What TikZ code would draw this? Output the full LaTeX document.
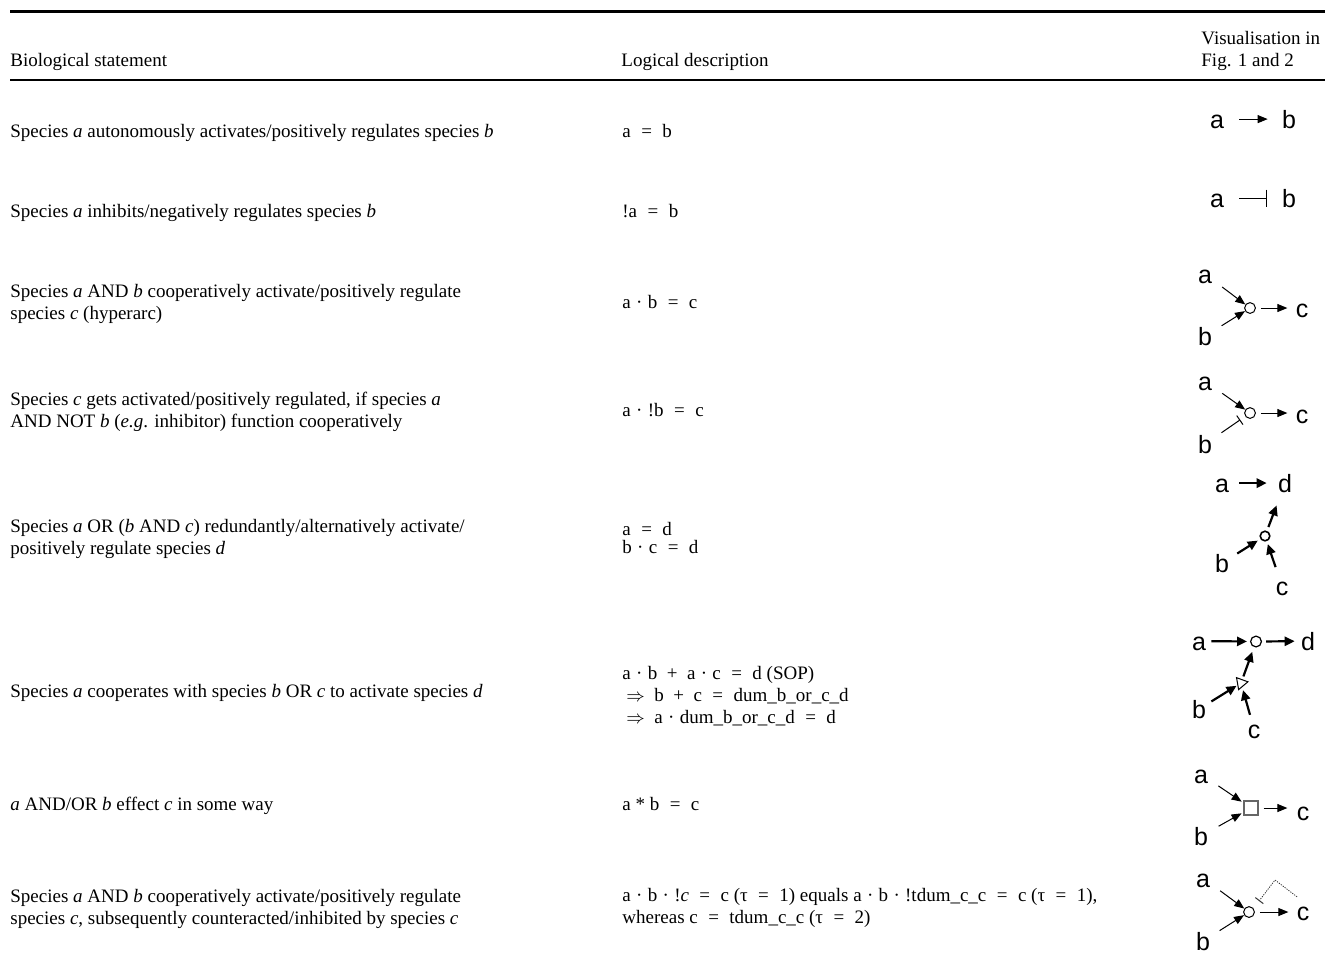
\documentclass[tikz,border=0pt]{standalone}
\usepackage{fontspec}
\setmainfont{Liberation Serif}
\newfontfamily\diagfont{Liberation Sans}
\usetikzlibrary{arrows.meta,shapes.geometric}

% spacing used in the logical expressions
\newcommand\lDot{\hspace{0.28em}·\hspace{0.28em}}
\newcommand\lEq{\hspace{0.55em}=\hspace{0.55em}}
\newcommand\lPlus{\hspace{0.5em}+\hspace{0.5em}}
\newcommand\lImp{$\Rightarrow$\hspace{0.5em}}

\begin{document}
\begin{tikzpicture}[x=0.5pt,y=-0.5pt,
  txt/.style={anchor=base west, inner sep=0pt, font=\fontsize{9.5}{11}\selectfont},
  sp/.style={anchor=base, inner sep=2.5pt, font=\diagfont\fontsize{12.5}{12.5}\selectfont,
             text height=8.9pt, text depth=0pt},
  junc/.style={circle, draw, line width=0.5pt, minimum size=5.4pt, inner sep=0pt},
  act/.style={line width=0.5pt, -{Triangle[length=5pt,width=4pt]}},
  bact/.style={line width=1.1pt, -{Triangle[length=5pt,width=4.6pt]}},
  inh/.style={line width=0.5pt, -{Bar[width=#1,line width=0.5pt]}},
  rule/.style={line width=1.3pt}
]
\useasboundingbox (0,0) rectangle (1325,971);

% ---------- table rules ----------
\coordinate (tl) at (10,11.5);  \coordinate (tr) at (1325,11.5);
\coordinate (hl) at (10,80);    \coordinate (hr) at (1325,80);
\draw[rule] (tl) -- (tr);
\draw[rule] (hl) -- (hr);

% ---------- header ----------
\node[txt] (h1) at (10,66) {Biological statement};
\node[txt] (h2) at (621,66) {Logical description};
\node[txt] (h3) at (1201,44) {Visualisation in};
\node[txt] (h4) at (1201,66) {Fig. 1 and 2};

% ---------- biological statements ----------
\node[txt] (s1) at (10,137) {Species \textit{a} autonomously activates/positively regulates species \textit{b}};
\node[txt] (s2) at (10,217) {Species \textit{a} inhibits/negatively regulates species \textit{b}};
\node[txt] (s3a) at (10,297) {Species \textit{a} AND \textit{b} cooperatively activate/positively regulate};
\node[txt] (s3b) at (10,319) {species \textit{c} (hyperarc)};
\node[txt] (s4a) at (10,405) {Species \textit{c} gets activated/positively regulated, if species \textit{a}};
\node[txt] (s4b) at (10,427) {AND NOT \textit{b} (\textit{e.g}. inhibitor) function cooperatively};
\node[txt] (s5a) at (10,532) {Species \textit{a} OR (\textit{b} AND \textit{c}) redundantly/alternatively activate/};
\node[txt] (s5b) at (10,554) {positively regulate species \textit{d}};
\node[txt] (s6) at (10,697) {Species \textit{a} cooperates with species \textit{b} OR \textit{c} to activate species \textit{d}};
\node[txt] (s7) at (10,810) {\textit{a} AND/OR \textit{b} effect \textit{c} in some way};
\node[txt] (s8a) at (10,902) {Species \textit{a} AND \textit{b} cooperatively activate/positively regulate};
\node[txt] (s8b) at (10,924) {species \textit{c}, subsequently counteracted/inhibited by species \textit{c}};

% ---------- logical descriptions ----------
\node[txt] (l1) at (622,137) {a\lEq b};
\node[txt] (l2) at (622,217) {!a\lEq b};
\node[txt] (l3) at (622,308) {a\lDot b\lEq c};
\node[txt] (l4) at (622,416) {a\lDot !b\lEq c};
\node[txt] (l5a) at (622,535) {a\lEq d};
\node[txt] (l5b) at (622,553) {b\lDot c\lEq d};
\node[txt] (l6a) at (622,679) {a\lDot b\lPlus a\lDot c\lEq d (SOP)};
\node[txt] (l6b) at (626,701) {\lImp b\lPlus c\lEq dum\_b\_or\_c\_d};
\node[txt] (l6c) at (626,723) {\lImp a\lDot dum\_b\_or\_c\_d\lEq d};
\node[txt] (l7) at (622,810) {a * b\lEq c};
\node[txt] (l8a) at (622,901) {a\lDot b\lDot !\textit{c}\lEq c (τ\lEq 1) equals a\lDot b\lDot !tdum\_c\_c\lEq c (τ\lEq 1),};
\node[txt] (l8b) at (622,923) {whereas c\lEq tdum\_c\_c (τ\lEq 2)};

% ---------- row 1: activation ----------
\node[sp] (a1) at (1217,128) {a};
\node[sp] (b1) at (1289,128) {b};
\draw[act, shorten <=5pt, shorten >=4.5pt] (a1) -- (b1);

% ---------- row 2: inhibition ----------
\node[sp] (a2) at (1217,207) {a};
\node[sp] (b2) at (1289,207) {b};
\draw[inh=8.5pt, shorten <=5pt, shorten >=5pt] (a2) -- (b2);

% ---------- row 3: hyperarc ----------
\node[sp] (a3) at (1205,283) {a};
\node[sp] (b3) at (1205,345) {b};
\node[junc] (j3) at (1250,308) {};
\node[sp] (c3) at (1302,317) {c};
\draw[act, shorten <=3pt] (a3) -- (j3);
\draw[act, shorten <=2.5pt] (b3) -- (j3);
\draw[act, shorten <=2.5pt, shorten >=1.5pt] (j3) -- (j3 -| c3.west);

% ---------- row 4: a AND NOT b ----------
\node[sp] (a4) at (1205,390) {a};
\node[sp] (b4) at (1205,453) {b};
\node[junc] (j4) at (1250,413) {};
\node[sp] (c4) at (1302,423) {c};
\draw[act, shorten <=3pt] (a4) -- (j4);
\draw[inh=5.5pt, shorten <=2.5pt, shorten >=3pt] (b4) -- (j4);
\draw[act, shorten <=2.5pt, shorten >=1.5pt] (j4) -- (j4 -| c4.west);

% ---------- row 5: a OR (b AND c) ----------
\node[sp] (a5) at (1222,492) {a};
\node[sp] (d5) at (1285,492) {d};
\node[junc, minimum size=4.8pt, line width=0.8pt] (j5) at (1265,536) {};
\node[sp] (b5) at (1222,572) {b};
\node[sp] (c5) at (1282,595) {c};
\draw[bact, shorten <=2.5pt, shorten >=3pt] (a5) -- (d5);
\draw[bact, shorten <=2pt, shorten >=4.3pt] (j5) -- (d5);
\draw[bact, shorten <=1.7pt, shorten >=1.5pt] (b5) -- (j5);
\draw[bact, shorten <=2.5pt, shorten >=1.5pt] (c5) -- (j5);

% ---------- row 6: a AND (b OR c) ----------
\node[sp] (a6) at (1199,650) {a};
\node[junc, line width=0.6pt] (j6) at (1256,641.5) {};
\node[sp] (d6) at (1308,650) {d};
\node[regular polygon, regular polygon sides=3, shape border rotate=-80, draw,
      line width=0.5pt, minimum size=7pt, inner sep=0pt] (t6) at (1241,683) {};
\node[sp] (b6) at (1199,718) {b};
\node[sp] (c6) at (1254,738) {c};
\draw[bact, shorten >=1.5pt] (a6) -- (j6);
\draw[bact, shorten <=2pt, shorten >=0.5pt] (j6) -- (d6);
\draw[bact, shorten <=1.5pt, shorten >=2.5pt] (t6) -- (j6);
\draw[bact, shorten >=0.5pt] (b6) -- (t6);
\draw[bact, shorten >=1.5pt] (c6) -- (t6);

% ---------- row 7: unspecified AND/OR effect ----------
\node[sp] (a7) at (1201,783) {a};
\node[draw=black!60, line width=0.7pt, minimum size=7pt, inner sep=0pt] (q7) at (1251,808) {};
\node[sp] (c7) at (1303,820) {c};
\node[sp] (b7) at (1201,845) {b};
\draw[act, shorten <=3pt, shorten >=1pt] (a7) -- (q7);
\draw[act, shorten <=3pt, shorten >=1pt] (b7) -- (q7);
\draw[act, shorten <=2.5pt, shorten >=2pt] (q7) -- (q7 -| c7.west);

% ---------- row 8: hyperarc with delayed self-inhibition ----------
\node[sp] (a8) at (1203,887) {a};
\node[sp] (b8) at (1203,950) {b};
\node[junc] (j8) at (1249,912) {};
\node[sp] (c8) at (1303,920) {c};
\coordinate (p8) at (1275,880);
\coordinate (h8) at (1259,901);
\draw[act, shorten <=3pt] (a8) -- (j8);
\draw[act, shorten <=2.5pt] (b8) -- (j8);
\draw[act, shorten <=2.5pt, shorten >=1.5pt] (j8) -- (j8 -| c8.west);
\draw[line width=0.4pt, black!80, dash pattern=on 0.6pt off 0.6pt, -{Bar[width=5pt,line width=0.5pt]}]
  ([xshift=-3pt]c8.north) -- (p8) -- (h8);
\end{tikzpicture}
\end{document}
